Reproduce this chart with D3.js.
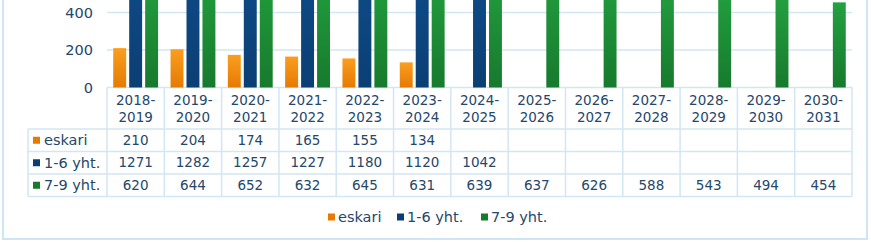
<!DOCTYPE html>
<html>
<head>
<meta charset="utf-8">
<script src="https://cdn.jsdelivr.net/npm/d3@7"></script>
<style>
  body { margin: 0; background: #fff; }
  svg { display: block; font-family: "DejaVu Sans", Verdana, sans-serif; }
</style>
</head>
<body>
<svg width="871" height="242"></svg>
<script>
// Data
const categories = ["2018-2019", "2019-2020", "2020-2021", "2021-2022", "2022-2023", "2023-2024",
    "2024-2025", "2025-2026", "2026-2027", "2027-2028", "2028-2029", "2029-2030", "2030-2031"];
const seriesNames = ["eskari", "1-6 yht.", "7-9 yht."];
const eskari = [210, 204, 174, 165, 155, 134, null, null, null, null, null, null, null];
const grade16 = [1271, 1282, 1257, 1227, 1180, 1120, 1042, null, null, null, null, null, null];
const grade79 = [620, 644, 652, 632, 645, 631, 639, 637, 626, 588, 543, 494, 454];
const yTicks = [0, 200, 400];

const seriesValues = [eskari, grade16, grade79];
const colors = [
    ["#fa9e20", "#e67a02"],  // orange top/bottom
    ["#12569a", "#0b3f74"],  // blue
    ["#23a140", "#177a2d"]   // green
];
const textColor = "#24476b";
const lineColor = "#d3e6f3";
const fontSize = "13.5px";
const labelSize = "14.5px";

const svg = d3.select("svg");

// outer frame (top edge is cut off in the picture)
svg.append("rect")
    .attr("x", 3).attr("y", -10)
    .attr("width", 864).attr("height", 249)
    .attr("fill", "#fff")
    .attr("stroke", "#cde5f5")
    .attr("stroke-width", 2);

const plotLeft = 107, plotRight = 852;

const x0 = d3.scaleBand()
    .domain(categories)
    .range([plotLeft, plotRight])
    .padding(0);

const x1 = d3.scaleBand()
    .domain(seriesNames)
    .range([0, x0.bandwidth()])
    .paddingInner(0.19)
    .paddingOuter(0.39);

const y = d3.scaleLinear()
    .domain([0, 400])
    .range([87.5, 12.5]);

// gradients for bars
const defs = svg.append("defs");
colors.forEach((c, i) => {
    const grad = defs.append("linearGradient")
        .attr("id", "grad" + i)
        .attr("x1", 0).attr("y1", 0).attr("x2", 0).attr("y2", 1);
    grad.append("stop").attr("offset", "0%").attr("stop-color", c[0]);
    grad.append("stop").attr("offset", "100%").attr("stop-color", c[1]);
});

// gridlines
svg.append("g")
    .selectAll("line")
    .data(yTicks)
    .enter().append("line")
    .attr("x1", plotLeft).attr("x2", plotRight)
    .attr("y1", d => y(d)).attr("y2", d => y(d))
    .attr("stroke", lineColor)
    .attr("stroke-width", 1.5);

// y labels
svg.append("g")
    .selectAll("text")
    .data(yTicks)
    .enter().append("text")
    .attr("x", 93)
    .attr("y", d => y(d))
    .attr("dy", "0.35em")
    .attr("text-anchor", "end")
    .attr("fill", textColor)
    .style("font-size", labelSize)
    .text(d => d);

// bars
seriesNames.forEach((name, si) => {
    const vals = categories.map((c, i) => ({ cat: c, v: seriesValues[si][i] }))
        .filter(d => d.v !== null);
    svg.append("g")
        .selectAll("rect")
        .data(vals)
        .enter().append("rect")
        .attr("x", d => x0(d.cat) + x1(name))
        .attr("width", x1.bandwidth())
        .attr("y", d => y(d.v))
        .attr("height", d => y(0) - y(d.v))
        .attr("fill", `url(#grad${si})`);
});

// data table
const tableLeft = 28;
const rowTop = [87.5, 129, 151.5, 174, 196.5];
const table = svg.append("g");

// horizontal lines
table.selectAll(".hline")
    .data(rowTop.slice(1))
    .enter().append("line")
    .attr("x1", tableLeft).attr("x2", plotRight)
    .attr("y1", d => d).attr("y2", d => d)
    .attr("stroke", lineColor).attr("stroke-width", 1.5);

// vertical lines
const vx = categories.map(c => x0(c)).concat([plotRight]);
table.selectAll(".vline")
    .data(vx)
    .enter().append("line")
    .attr("x1", d => d).attr("x2", d => d)
    .attr("y1", rowTop[0]).attr("y2", rowTop[4])
    .attr("stroke", lineColor).attr("stroke-width", 1.5);
table.append("line")
    .attr("x1", tableLeft).attr("x2", tableLeft)
    .attr("y1", rowTop[1]).attr("y2", rowTop[4])
    .attr("stroke", lineColor).attr("stroke-width", 1.5);

// header labels (two lines)
categories.forEach(c => {
    const parts = c.split("-");
    const cx = x0(c) + x0.bandwidth() / 2;
    table.append("text")
        .attr("x", cx).attr("y", 100).attr("dy", "0.35em")
        .attr("text-anchor", "middle").attr("fill", textColor)
        .style("font-size", fontSize)
        .text(parts[0] + "-");
    table.append("text")
        .attr("x", cx).attr("y", 117).attr("dy", "0.35em")
        .attr("text-anchor", "middle").attr("fill", textColor)
        .style("font-size", fontSize)
        .text(parts[1]);
});

// rows
seriesNames.forEach((name, si) => {
    const cy = (rowTop[si + 1] + rowTop[si + 2]) / 2;
    table.append("rect")
        .attr("x", 33).attr("y", cy - 3.5)
        .attr("width", 7).attr("height", 7)
        .attr("fill", colors[si][1]);
    table.append("text")
        .attr("x", 44).attr("y", cy).attr("dy", "0.35em")
        .attr("fill", textColor)
        .style("font-size", labelSize)
        .text(name);
    categories.forEach((c, i) => {
        const v = seriesValues[si][i];
        if (v === null) return;
        table.append("text")
            .attr("x", x0(c) + x0.bandwidth() / 2).attr("y", cy).attr("dy", "0.35em")
            .attr("text-anchor", "middle").attr("fill", textColor)
            .style("font-size", fontSize)
            .text(v);
    });
});

// legend
const legendX = [328, 397, 481];
const legend = svg.append("g");
seriesNames.forEach((name, si) => {
    legend.append("rect")
        .attr("x", legendX[si]).attr("y", 217 - 3.5)
        .attr("width", 7).attr("height", 7)
        .attr("fill", colors[si][1]);
    legend.append("text")
        .attr("x", legendX[si] + 10).attr("y", 217).attr("dy", "0.35em")
        .attr("fill", textColor)
        .style("font-size", labelSize)
        .text(name);
});
</script>
</body>
</html>
